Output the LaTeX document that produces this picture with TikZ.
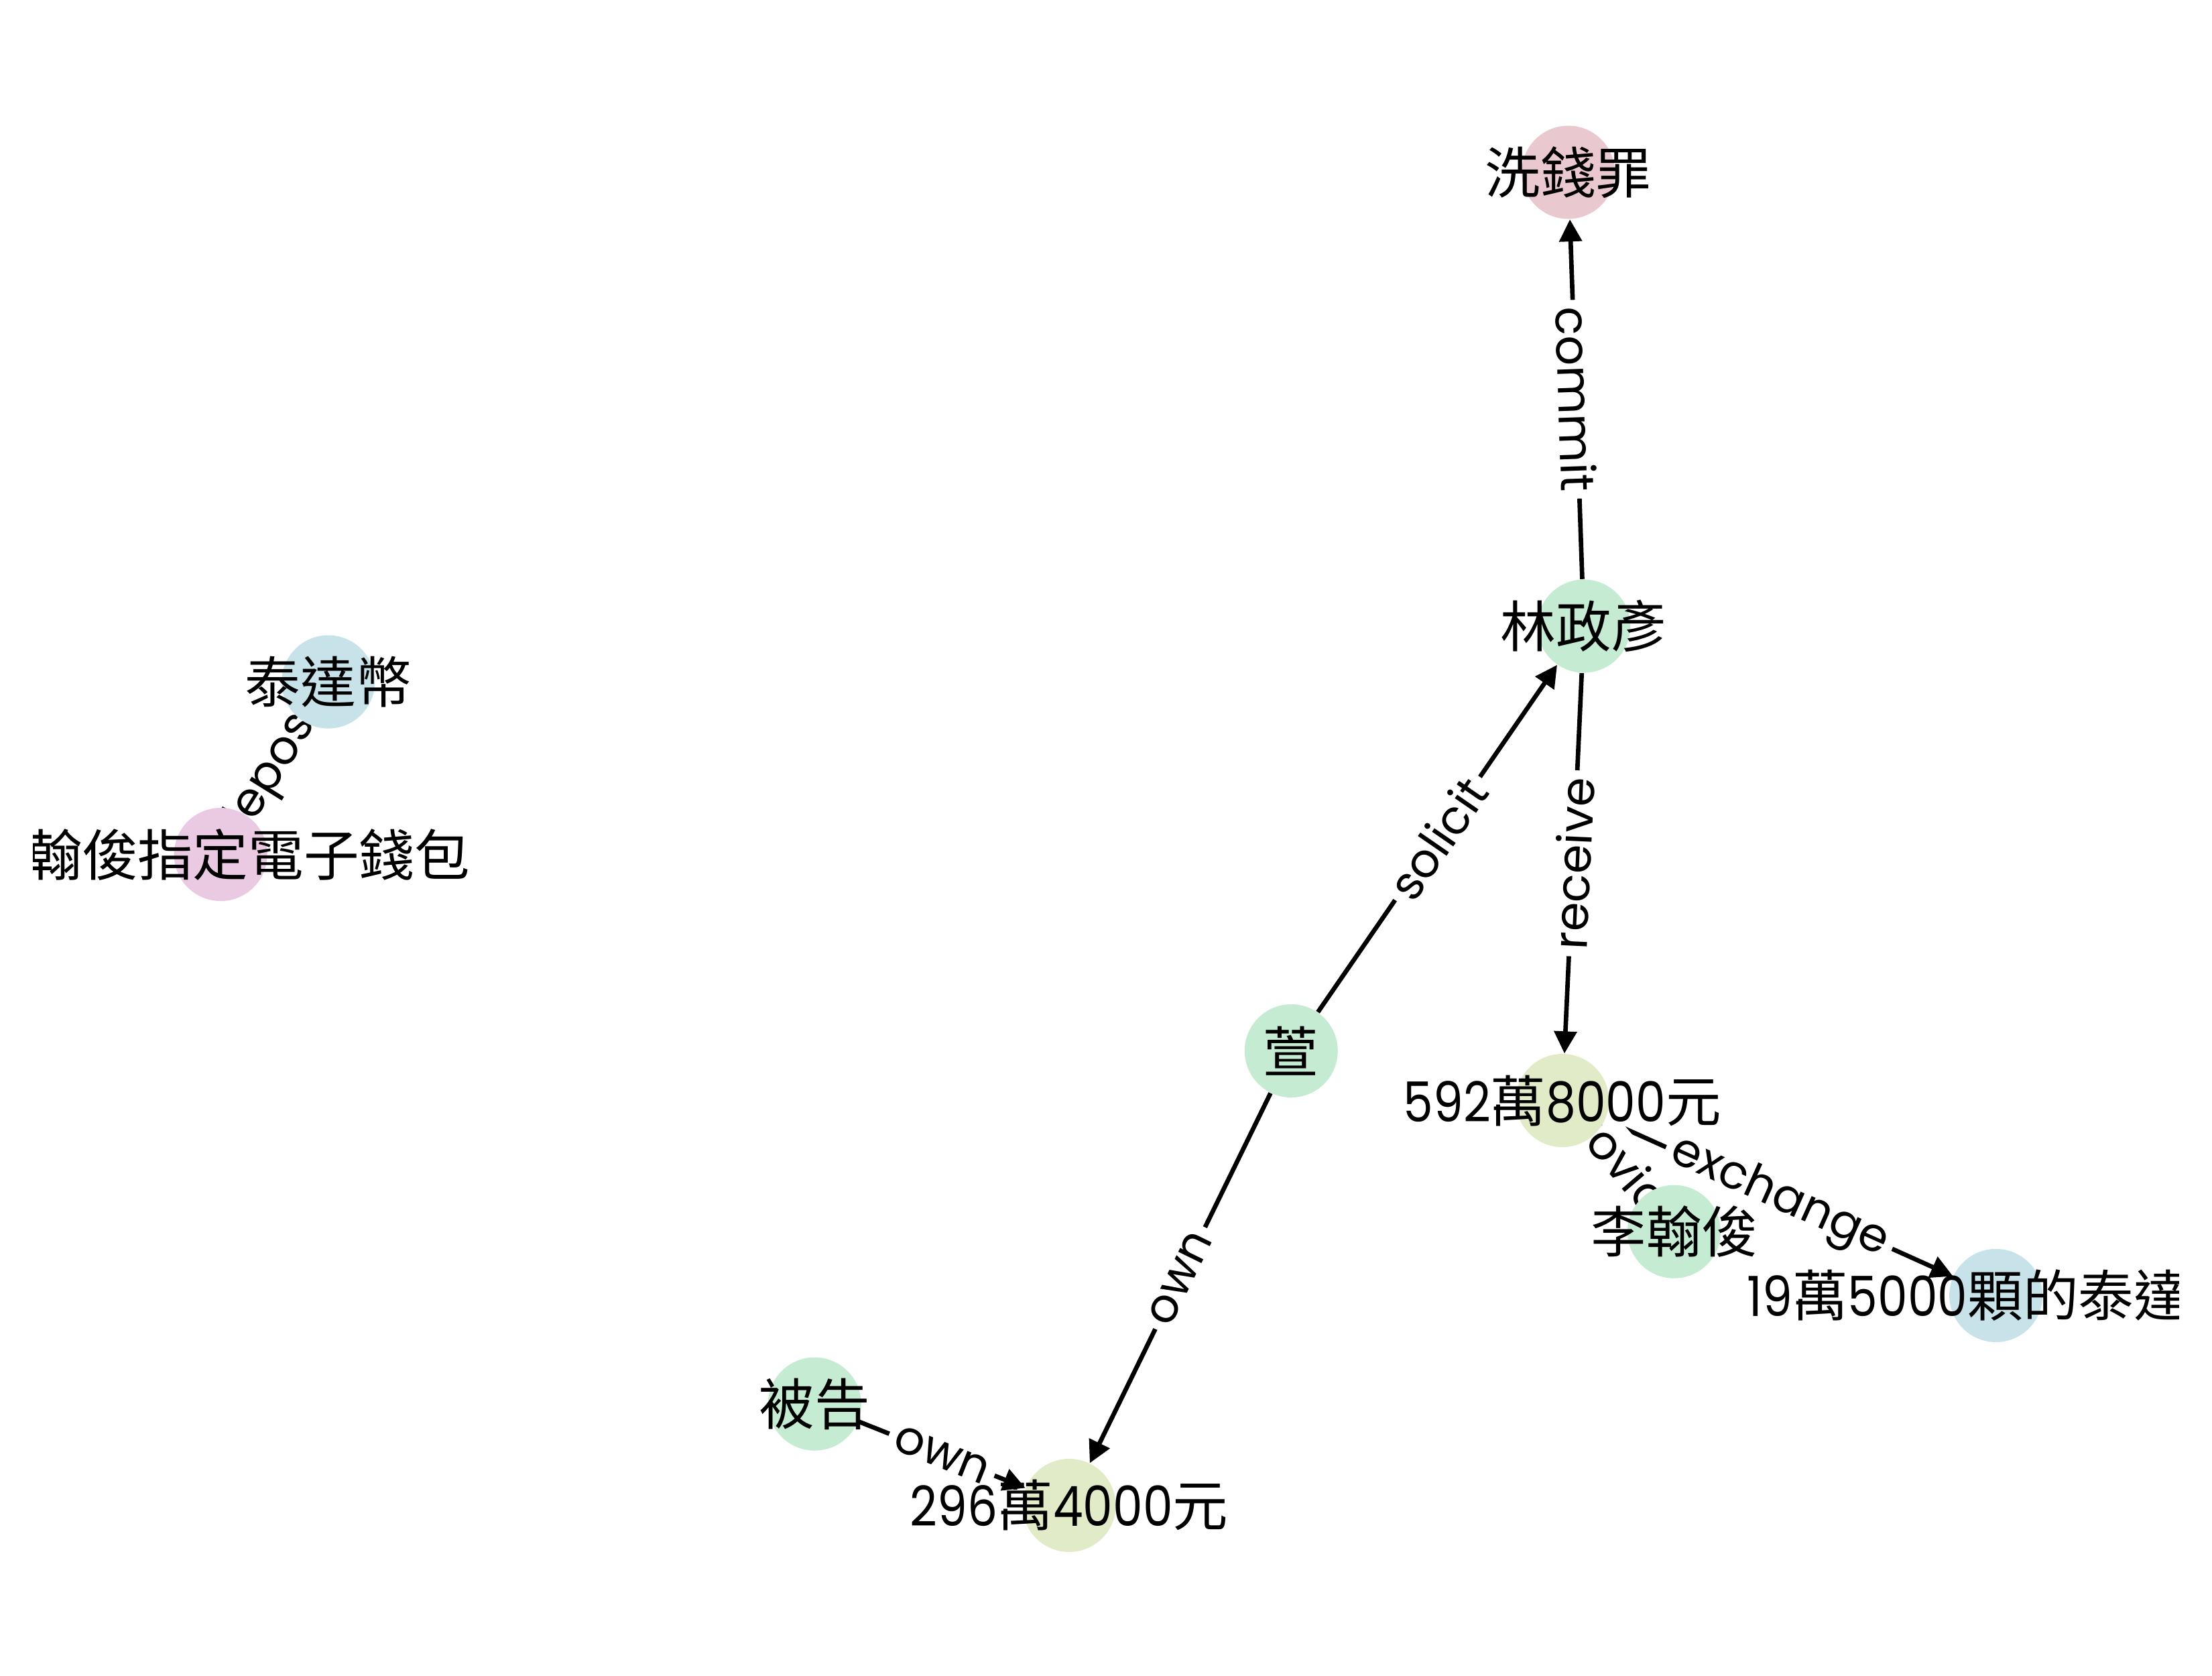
\documentclass[tikz,border=0pt]{standalone}
\usepackage{fontspec}
\setmainfont{Poppins}
\newfontfamily\cjk{Noto Sans CJK TC}
\newfontfamily\numfont[FakeStretch=0.86]{Poppins}
\usepackage{tikz}
\usetikzlibrary{arrows.meta}

\definecolor{cpink}{HTML}{EAC8D0}
\definecolor{cgreen}{HTML}{C6EBD3}
\definecolor{cblue}{HTML}{C8E2EA}
\definecolor{cviolet}{HTML}{EACAE3}
\definecolor{colive}{HTML}{E1EBC8}

\tikzset{
  ent/.style={circle, minimum size=1.39cm, inner sep=0pt, fill=#1},
  every label/.style={font=\numfont\fontsize{23.5}{28}\selectfont, inner sep=0pt},
  rel/.style={midway, sloped, fill=white, inner sep=3pt, font=\fontsize{20}{24}\selectfont},
  link/.style={-{Triangle[length=0.33cm,width=0.33cm]}, line width=1.9pt},
}
\pgfdeclarelayer{edges}
\pgfsetlayers{edges,main}

\begin{document}
\begin{tikzpicture}[x=0.021154cm, y=-0.021154cm]
      \useasboundingbox (0, 0) rectangle (1560, 1181.4);
      % entities (texts are cut at the plot area)
      \begin{scope}
      \clip (23.6, 0) rectangle (1536.6, 1181.4);
      \node[ent=cpink, label=center:{\cjk 洗錢罪}] (xq) at (1106, 121.5) {};
      \node[ent=cgreen, label=center:{\cjk 林政彥}] (lin) at (1117, 441.5) {};
      \node[ent=cblue, label=center:{\cjk 泰達幣}] (tether) at (231.5, 480.8) {};
      \node[ent=cviolet, label=center:{\cjk 李翰俊指定電子錢包}] (wallet) at (155.6, 602.5) {};
      \node[ent=cgreen, label=center:{\cjk 萱}] (xuan) at (910.6, 741) {};
      \node[ent=colive, label=center:{592{\cjk 萬}8000{\cjk 元}}] (cashA) at (1101.8, 776) {};
      \node[ent=cgreen, label=center:{\cjk 李翰俊}] (li) at (1180.6, 868.5) {};
      \node[ent=cblue, label=center:{19{\cjk 萬}5000{\cjk 顆的泰達幣}}] (usdt) at (1407.6, 913.5) {};
      \node[ent=cgreen, label=center:{\cjk 被告}] (bg) at (574.5, 990) {};
      \node[ent=colive, label=center:{296{\cjk 萬}4000{\cjk 元}}] (cashB) at (754, 1061.5) {};
      \end{scope}
      % relations
      \begin{pgfonlayer}{edges}
      \draw[link] (lin) -- node[rel] {commit} (xq);
      \draw[link] (xuan) -- node[rel] {solicit} (lin);
      \draw[link] (lin) -- node[rel] {receive} (cashA);
      \draw[link] (xuan) -- node[rel] {own} (cashB);
      \draw[link] (bg) -- node[rel] {own} (cashB);
      \draw[link] (cashA) -- node[rel] {exchange} (usdt);
      \draw[link] (li) -- node[rel] {provide} (cashA);
      \draw[link] (tether) -- node[rel] {deposit} (wallet);
      \end{pgfonlayer}
    \end{tikzpicture}
\end{document}
